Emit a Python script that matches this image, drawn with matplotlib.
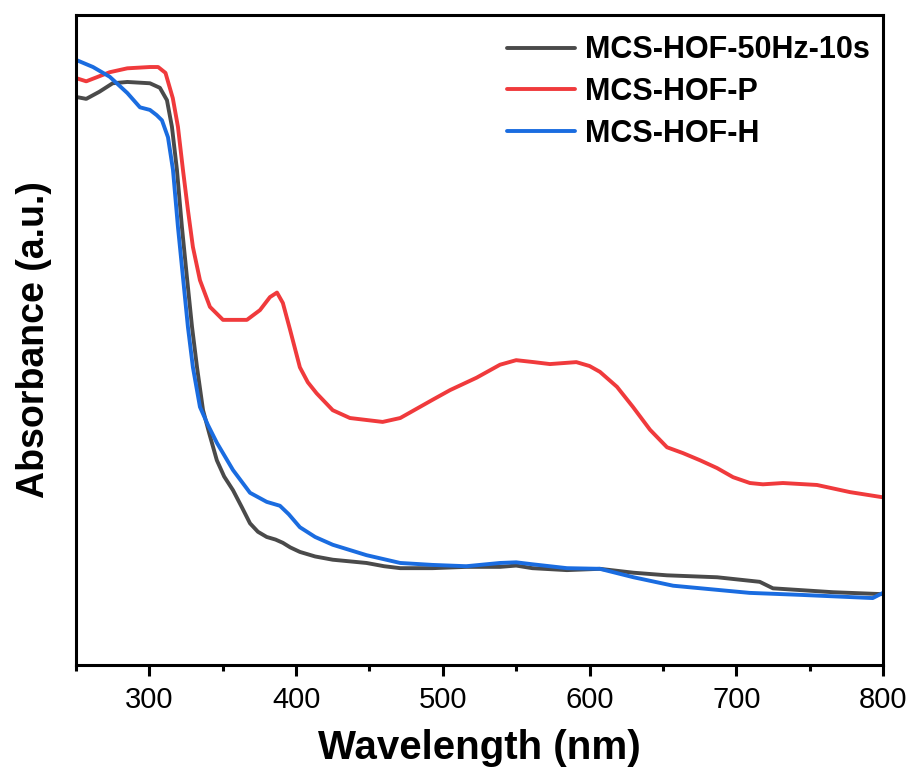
import numpy as np
import matplotlib
matplotlib.use("Agg")
import matplotlib.pyplot as plt
from matplotlib.ticker import MultipleLocator

plt.rcParams['font.family'] = ['Liberation Sans', 'DejaVu Sans']

# values (arbitrary absorbance units)
wl_black = [250, 257, 266, 275, 285, 300.4, 307.2, 312, 315.4, 318.8, 322.2, 325.6, 329.1,
            332.5, 336.6, 341, 346, 351, 357, 363, 368.6, 374, 380, 386, 391, 396, 402.6,
            413, 425, 448, 460, 471, 493, 516, 539, 550, 561, 584.6, 607, 630, 652.8, 687,
            716, 725, 766, 800]
abs_black = [0.874, 0.871, 0.882, 0.895, 0.897, 0.895, 0.888, 0.869, 0.828, 0.762, 0.674,
             0.597, 0.520, 0.458, 0.392, 0.355, 0.315, 0.290, 0.269, 0.243, 0.218, 0.205,
             0.197, 0.193, 0.188, 0.181, 0.174, 0.167, 0.162, 0.157, 0.152, 0.149, 0.149,
             0.151, 0.151, 0.153, 0.149, 0.146, 0.148, 0.142, 0.138, 0.135, 0.128, 0.118,
             0.112, 0.109]

wl_red = [250, 257, 273, 285, 300.4, 306, 311, 316, 319.5, 322.9, 326.3, 329.7, 334.5,
          341.3, 350.2, 366.5, 375.4, 382.2, 387, 391, 396, 402.6, 408, 414, 425, 436.7,
          459, 471, 493, 505, 523, 539, 550, 562, 573, 591, 600, 607.1, 618.7, 629.6,
          641.2, 652.8, 663.7, 675.3, 686.9, 697.8, 709.3, 718.2, 731.8, 755, 777.5, 800]
abs_red = [0.903, 0.898, 0.912, 0.918, 0.920, 0.920, 0.911, 0.872, 0.828, 0.762, 0.700,
           0.643, 0.592, 0.551, 0.531, 0.531, 0.546, 0.566, 0.573, 0.557, 0.515, 0.458,
           0.435, 0.418, 0.392, 0.380, 0.374, 0.380, 0.408, 0.423, 0.442, 0.462, 0.469,
           0.466, 0.463, 0.466, 0.460, 0.451, 0.428, 0.397, 0.362, 0.335, 0.326, 0.315,
           0.303, 0.289, 0.280, 0.278, 0.280, 0.277, 0.266, 0.258]

wl_blue = [250, 261.6, 273, 285, 293.6, 300.4, 305, 308.6, 312.7, 316.1, 319.5, 322.9,
           326.3, 329.7, 334.5, 340, 346, 357, 368.6, 380, 389, 395, 402.6, 413, 425, 448,
           471, 493, 516, 539, 550, 561, 584.6, 607, 630, 657, 709, 743, 793, 800]
abs_blue = [0.931, 0.920, 0.905, 0.880, 0.858, 0.854, 0.846, 0.838, 0.812, 0.762, 0.674,
            0.597, 0.520, 0.458, 0.397, 0.369, 0.342, 0.300, 0.265, 0.251, 0.245, 0.232,
            0.212, 0.197, 0.185, 0.169, 0.157, 0.154, 0.152, 0.157, 0.158, 0.155, 0.149,
            0.148, 0.135, 0.122, 0.111, 0.108, 0.103, 0.111]

labels = ['MCS-HOF-50Hz-10s', 'MCS-HOF-P', 'MCS-HOF-H']
colors = ['#4a4a4a', '#f03a3c', '#1a6ce0']

fig = plt.figure(figsize=(9.12, 7.74), dpi=100)
ax = fig.add_axes([0.0833, 0.1408, 0.8849, 0.8398])

ax.plot(wl_black, abs_black, color=colors[0], lw=2.8, label=labels[0],
        solid_capstyle='round', solid_joinstyle='round')
ax.plot(wl_red, abs_red, color=colors[1], lw=2.8, label=labels[1],
        solid_capstyle='round', solid_joinstyle='round')
ax.plot(wl_blue, abs_blue, color=colors[2], lw=2.8, label=labels[2],
        solid_capstyle='round', solid_joinstyle='round')

ax.set_xlim(250, 800)
ax.set_ylim(0, 1)
ax.xaxis.set_major_locator(MultipleLocator(100))
ax.xaxis.set_minor_locator(MultipleLocator(50))
ax.set_yticks([])
for s in ax.spines.values():
    s.set_linewidth(2.2)
ax.tick_params(axis='x', which='major', direction='out', length=8, width=2.2,
               labelsize=21, pad=7)
ax.tick_params(axis='x', which='minor', direction='out', length=4, width=2.2)

ax.set_xlabel('Wavelength (nm)', fontsize=29, fontweight='bold', labelpad=11)
ax.set_ylabel('Absorbance (a.u.)', fontsize=27, fontweight='bold', labelpad=17)

leg = ax.legend(loc='upper right', bbox_to_anchor=(1.003, 0.992), frameon=False,
                fontsize=22, handlelength=2.2, labelspacing=0.38, borderaxespad=0.1,
                handletextpad=0.35)
for t in leg.get_texts():
    t.set_fontweight('bold')

fig.savefig('out.png', dpi=100)
